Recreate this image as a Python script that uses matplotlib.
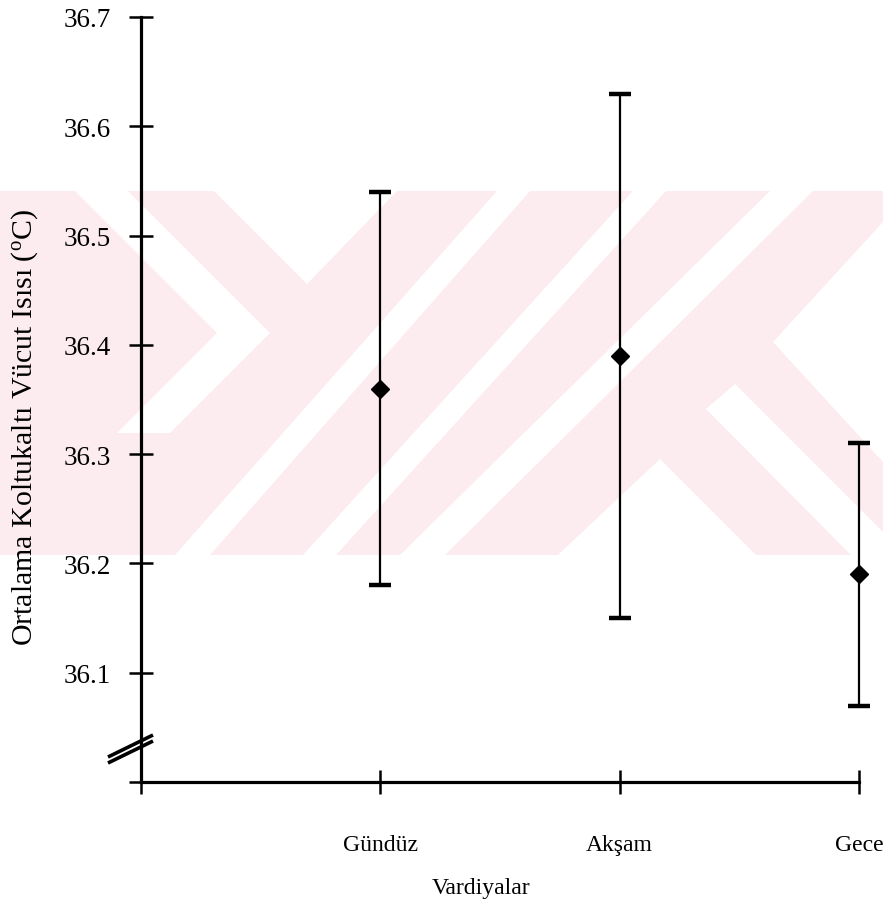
import numpy as np
import matplotlib
matplotlib.use('Agg')
import matplotlib.pyplot as plt
from matplotlib.patches import Polygon
from matplotlib.lines import Line2D

plt.rcParams['font.family'] = 'Liberation Serif'
plt.rcParams['mathtext.fontset'] = 'custom'
plt.rcParams['mathtext.rm'] = 'Liberation Serif'
plt.rcParams['mathtext.it'] = 'Liberation Serif:italic'

# shift means and standard deviations of axillary temperature
vardiya = ['Gündüz', 'Akşam', 'Gece']
ortalama = [36.36, 36.39, 36.19]
ss = [0.18, 0.24, 0.12]
yticks = [36.0, 36.1, 36.2, 36.3, 36.4, 36.5, 36.6, 36.7]
ytick_labels = ['', '36.1', '36.2', '36.3', '36.4', '36.5', '36.6', '36.7']

W, H = 883, 912
fig = plt.figure(figsize=(W / 100, H / 100), dpi=100)


def px(x, y):
    # pixel position (from top-left) -> figure fraction
    return (x / W, 1 - y / H)


# faint logo band behind the plot
pink = '#fdecef'
band = [(0, 192), (883, 192), (883, 556), (0, 556)]
gaps = [
    [(75, 192), (128, 192), (270, 334), (170, 434), (117, 434), (217, 334)],
    [(214, 192), (397, 192), (307, 285)],
    [(497, 192), (530, 192), (210, 556), (175, 556)],
    [(633, 192), (666, 192), (336, 556), (303, 556)],
    [(770, 192), (813, 192), (445, 556), (400, 556)],
    [(883, 223), (773, 343), (883, 463)],
    [(558, 556), (660, 460), (756, 556)],
    [(706, 410), (735, 385), (883, 533), (883, 556), (851, 556)],
]
fig.add_artist(Polygon([px(*p) for p in band], closed=True, transform=fig.transFigure,
                       fc=pink, ec='none', zorder=-2))
for g in gaps:
    fig.add_artist(Polygon([px(*p) for p in g], closed=True, transform=fig.transFigure,
                           fc='white', ec='none', zorder=-1))

ax = fig.add_axes([141 / W, 1 - 783 / H, (859 - 141) / W, (783 - 18) / H])
ax.patch.set_visible(False)

x = np.arange(1, len(vardiya) + 1)
eb = ax.errorbar(x, ortalama, yerr=ss, fmt='D', color='black', ms=9,
                 elinewidth=1.6, capsize=8, capthick=3.2)
for a in eb.get_children():
    a.set_clip_on(False)

ax.set_xlim(0, 3)
ax.set_ylim(36.0, 36.7)
ax.set_xticks(np.arange(0, len(vardiya) + 1), [''] + vardiya)
ax.set_yticks(yticks, ytick_labels)
ax.tick_params(direction='inout', length=17, width=1.8, color='black')
ax.tick_params(axis='x', labelsize=17, pad=29)
ax.tick_params(axis='y', labelsize=19.5, pad=13)

ax.spines[['top', 'right']].set_visible(False)
ax.spines[['left', 'bottom']].set_linewidth(2.3)

ax.set_ylabel('Ortalama Koltukaltı Vücut Isısı ($^{\\mathrm{o}}$C)', fontsize=21.5)
ax.yaxis.set_label_coords(-0.14, 0.465)
ax.set_xlabel('Vardiyalar', fontsize=17)
ax.xaxis.set_label_coords(0.473, -0.124)

# axis break marks
for dy in (0, 6):
    fig.add_artist(Line2D([108 / W, 153 / W], [1 - (758 + dy) / H, 1 - (736 + dy) / H],
                          color='black', lw=2.6, solid_capstyle='butt'))

fig.savefig('out.png', dpi=100, facecolor='white')
